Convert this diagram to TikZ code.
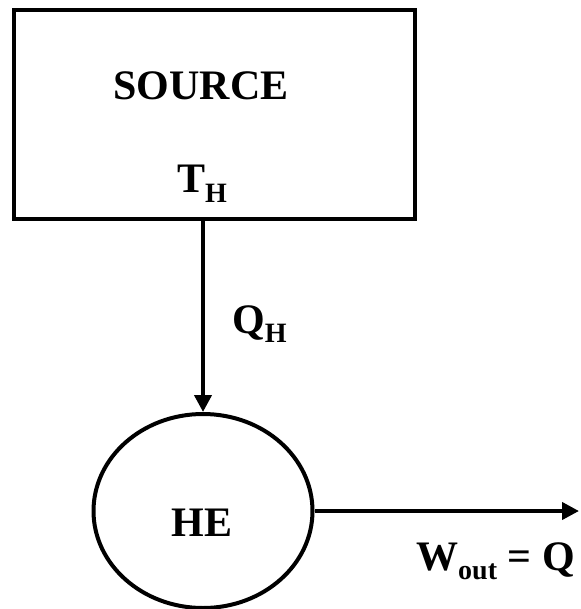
\documentclass[tikz,border=0pt]{standalone}
\usepackage{fontspec}
\setmainfont{Liberation Serif}
\usetikzlibrary{arrows.meta,shapes.geometric}
\newcommand\sbs[1]{\raisebox{-0.22em}{\fontsize{28}{28}\selectfont #1}}
\begin{document}
\begin{tikzpicture}[x=1pt,y=-1pt,
  lbl/.style={inner sep=0pt,font=\fontsize{42}{42}\selectfont\bfseries},
  flow/.style={line width=4pt,-{Triangle[length=17pt,width=17pt]}}]
\useasboundingbox (0,0) rectangle (580,609);
\node[draw,line width=4.5pt,minimum width=401pt,minimum height=209pt,inner sep=0pt] (source) at (214.5,114.5) {};
\node[lbl] (srctxt) at (201,86) {SOURCE};
\node[lbl,anchor=base west] (th) at (177,193) {T\sbs{H}};
\node[draw,ellipse,line width=4pt,minimum width=219pt,minimum height=194pt,inner sep=0pt] (he) at (203,511) {};
\node[lbl] (hetxt) at (202,523) {HE};
\node[lbl,anchor=base west] (qh) at (232,333) {Q\sbs{H}};
\node[lbl,anchor=base west] (w) at (416,570) {W\sbs{out} = Q};
\coordinate (out) at (579,511);
\draw[flow] (he.north |- source.south) -- (he.north);
\draw[flow] (he.east) -- (out);
\end{tikzpicture}
\end{document}
